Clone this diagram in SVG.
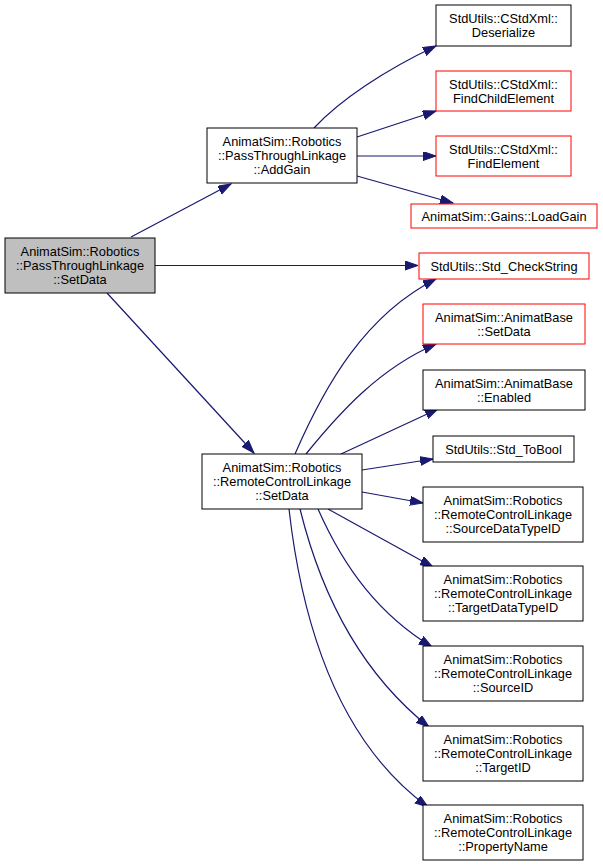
<svg xmlns="http://www.w3.org/2000/svg" width="603" height="867" viewBox="0 0 603 867">
<style>
  .n rect { fill: #ffffff; stroke: #000000; stroke-width: 1; }
  .n.red rect { stroke: #ff0000; }
  .n.cur rect { fill: #bfbfbf; }
  text { font-family: "Liberation Sans", Arial, sans-serif; font-size: 12.8px; fill: #000000; text-anchor: middle; }
  .e path { fill: none; stroke: #191970; stroke-width: 1.2; marker-end: url(#ah); }
</style>
<defs>
  <marker id="ah" markerUnits="userSpaceOnUse" markerWidth="15" markerHeight="10" refX="13" refY="4.5" orient="auto">
    <path d="M0,0 L13,4.5 L0,9 z" fill="#191970" stroke="#191970" stroke-width="1"/>
  </marker>
</defs>
<rect width="603" height="867" fill="#ffffff"/>
<g id="edges" class="e">
  <path d="M131,237 L231,184"/>
  <path d="M155,265.5 L418,265.5"/>
  <path d="M107,293 L254,453"/>
  <path d="M314,128 C340,100 385,70 436,46"/>
  <path d="M357,137 L436,111"/>
  <path d="M357,156 L436,156"/>
  <path d="M357,176 L453,203"/>
  <path d="M295,454 C325,385 365,315 436,279"/>
  <path d="M306,454 C340,412 380,368 436,344"/>
  <path d="M341,454 L438,409"/>
  <path d="M362,470 L433,459"/>
  <path d="M362,492 L423,503"/>
  <path d="M328,509 L433,567"/>
  <path d="M318,509 C345,570 380,615 432,647"/>
  <path d="M300,509 C325,610 370,680 429,727"/>
  <path d="M289,509 C305,650 350,750 428,807"/>
</g>
<g id="n_setdata" class="n cur"><rect x="5" y="238" width="150" height="55"/><text x="80" y="256">AnimatSim::Robotics</text><text x="80" y="270">::PassThroughLinkage</text><text x="80" y="284">::SetData</text></g>
<g id="n_addgain" class="n"><rect x="207" y="128" width="150" height="55"/><text x="282" y="146">AnimatSim::Robotics</text><text x="282" y="160">::PassThroughLinkage</text><text x="282" y="174">::AddGain</text></g>
<g id="n_deserialize" class="n"><rect x="436" y="5" width="135" height="41"/><text x="503.5" y="23">StdUtils::CStdXml::</text><text x="503.5" y="37">Deserialize</text></g>
<g id="n_findchild" class="n red"><rect x="436" y="71" width="135" height="40"/><text x="503.5" y="89">StdUtils::CStdXml::</text><text x="503.5" y="103">FindChildElement</text></g>
<g id="n_findelement" class="n red"><rect x="436" y="136" width="135" height="40"/><text x="503.5" y="154">StdUtils::CStdXml::</text><text x="503.5" y="168">FindElement</text></g>
<g id="n_loadgain" class="n red"><rect x="411" y="204" width="186" height="24"/><text x="504" y="220.5">AnimatSim::Gains::LoadGain</text></g>
<g id="n_checkstring" class="n red"><rect x="419" y="253" width="170" height="26"/><text x="504" y="270.5">StdUtils::Std_CheckString</text></g>
<g id="n_basesetdata" class="n red"><rect x="423" y="304" width="162" height="40"/><text x="504" y="322">AnimatSim::AnimatBase</text><text x="504" y="336">::SetData</text></g>
<g id="n_enabled" class="n"><rect x="423" y="370" width="162" height="40"/><text x="504" y="388">AnimatSim::AnimatBase</text><text x="504" y="402">::Enabled</text></g>
<g id="n_tobool" class="n"><rect x="433" y="436" width="141" height="26"/><text x="503.5" y="453.5">StdUtils::Std_ToBool</text></g>
<g id="n_rclsetdata" class="n"><rect x="202" y="454" width="160" height="55"/><text x="282" y="472">AnimatSim::Robotics</text><text x="282" y="486">::RemoteControlLinkage</text><text x="282" y="500">::SetData</text></g>
<g id="n_srcdt" class="n"><rect x="423" y="487" width="160" height="55"/><text x="503" y="505">AnimatSim::Robotics</text><text x="503" y="519">::RemoteControlLinkage</text><text x="503" y="533">::SourceDataTypeID</text></g>
<g id="n_tgtdt" class="n"><rect x="423" y="566" width="160" height="55"/><text x="503" y="584">AnimatSim::Robotics</text><text x="503" y="598">::RemoteControlLinkage</text><text x="503" y="612">::TargetDataTypeID</text></g>
<g id="n_srcid" class="n"><rect x="423" y="646" width="160" height="55"/><text x="503" y="664">AnimatSim::Robotics</text><text x="503" y="678">::RemoteControlLinkage</text><text x="503" y="692">::SourceID</text></g>
<g id="n_tgtid" class="n"><rect x="423" y="726" width="160" height="55"/><text x="503" y="744">AnimatSim::Robotics</text><text x="503" y="758">::RemoteControlLinkage</text><text x="503" y="772">::TargetID</text></g>
<g id="n_propname" class="n"><rect x="423" y="805" width="160" height="55"/><text x="503" y="823">AnimatSim::Robotics</text><text x="503" y="837">::RemoteControlLinkage</text><text x="503" y="851">::PropertyName</text></g>
</svg>
